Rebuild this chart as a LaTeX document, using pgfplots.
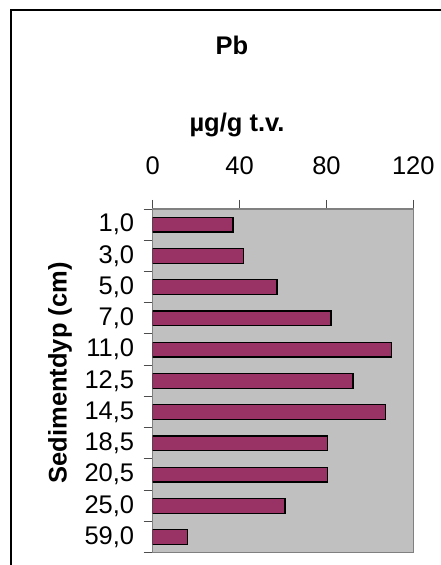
\documentclass[border=0pt]{standalone}
\usepackage{pgfplots}
\pgfplotsset{compat=1.18}
\usepackage{fontspec}
\setmainfont{Liberation Sans}
\definecolor{barc}{HTML}{993366}
\definecolor{plotbg}{HTML}{C0C0C0}
\definecolor{frameg}{HTML}{808080}
\begin{document}
\begin{tikzpicture}[x=1pt,y=1pt]
\useasboundingbox (0,0) rectangle (440,565);
\draw[line width=2pt] (11,-10) -- (11,554.5) -- (460,554.5);
\node[font=\fontsize{25.5}{30}\selectfont\bfseries] at (232,520) {Pb};
\node[font=\fontsize{25.5}{30}\selectfont\bfseries] at (237,440) {µg/g t.v.};
\node[font=\fontsize{25.5}{30}\selectfont\bfseries, rotate=90] at (60,192) {Sedimentdyp (cm)};
\begin{axis}[
  at={(152.67pt,12.3pt)}, anchor=south west,
  scale only axis, width=260.67pt, height=343.7pt,
  xbar, bar width=14.7pt,
  xmin=0, xmax=120, ymin=-0.5, ymax=10.5, y dir=reverse,
  xtick={0,40,80,120}, xtick pos=right, xticklabel pos=right,
  ytick={0,...,10}, ytick pos=left,
  yticklabels={{1,0},{3,0},{5,0},{7,0},{11,0},{12,5},{14,5},{18,5},{20,5},{25,0},{59,0}},
  minor ytick={-0.5,0.5,...,10.5},
  ytick style={draw=none},
  minor y tick style={draw=black!70, line width=1pt},
  tick align=outside, major tick length=9pt, minor tick length=9pt,
  /pgf/number format/assume math mode=true,
  ticklabel style={font=\fontsize{25.5}{30}\selectfont},
  xticklabel style={yshift=21.5pt},
  yticklabel style={xshift=-6pt},
  axis background/.style={fill=plotbg},
  axis line style={frameg, line width=1.5pt},
  every tick/.style={black!70, line width=1pt},
]
\addplot[fill=barc, draw=black, line width=1.2pt] coordinates {
(37,0) (41.7,1) (57.2,2) (82.1,3) (109.9,4) (92.2,5) (107.1,6) (80.4,7) (80.4,8) (60.9,9) (16,10)};
\end{axis}
\end{tikzpicture}
\end{document}
